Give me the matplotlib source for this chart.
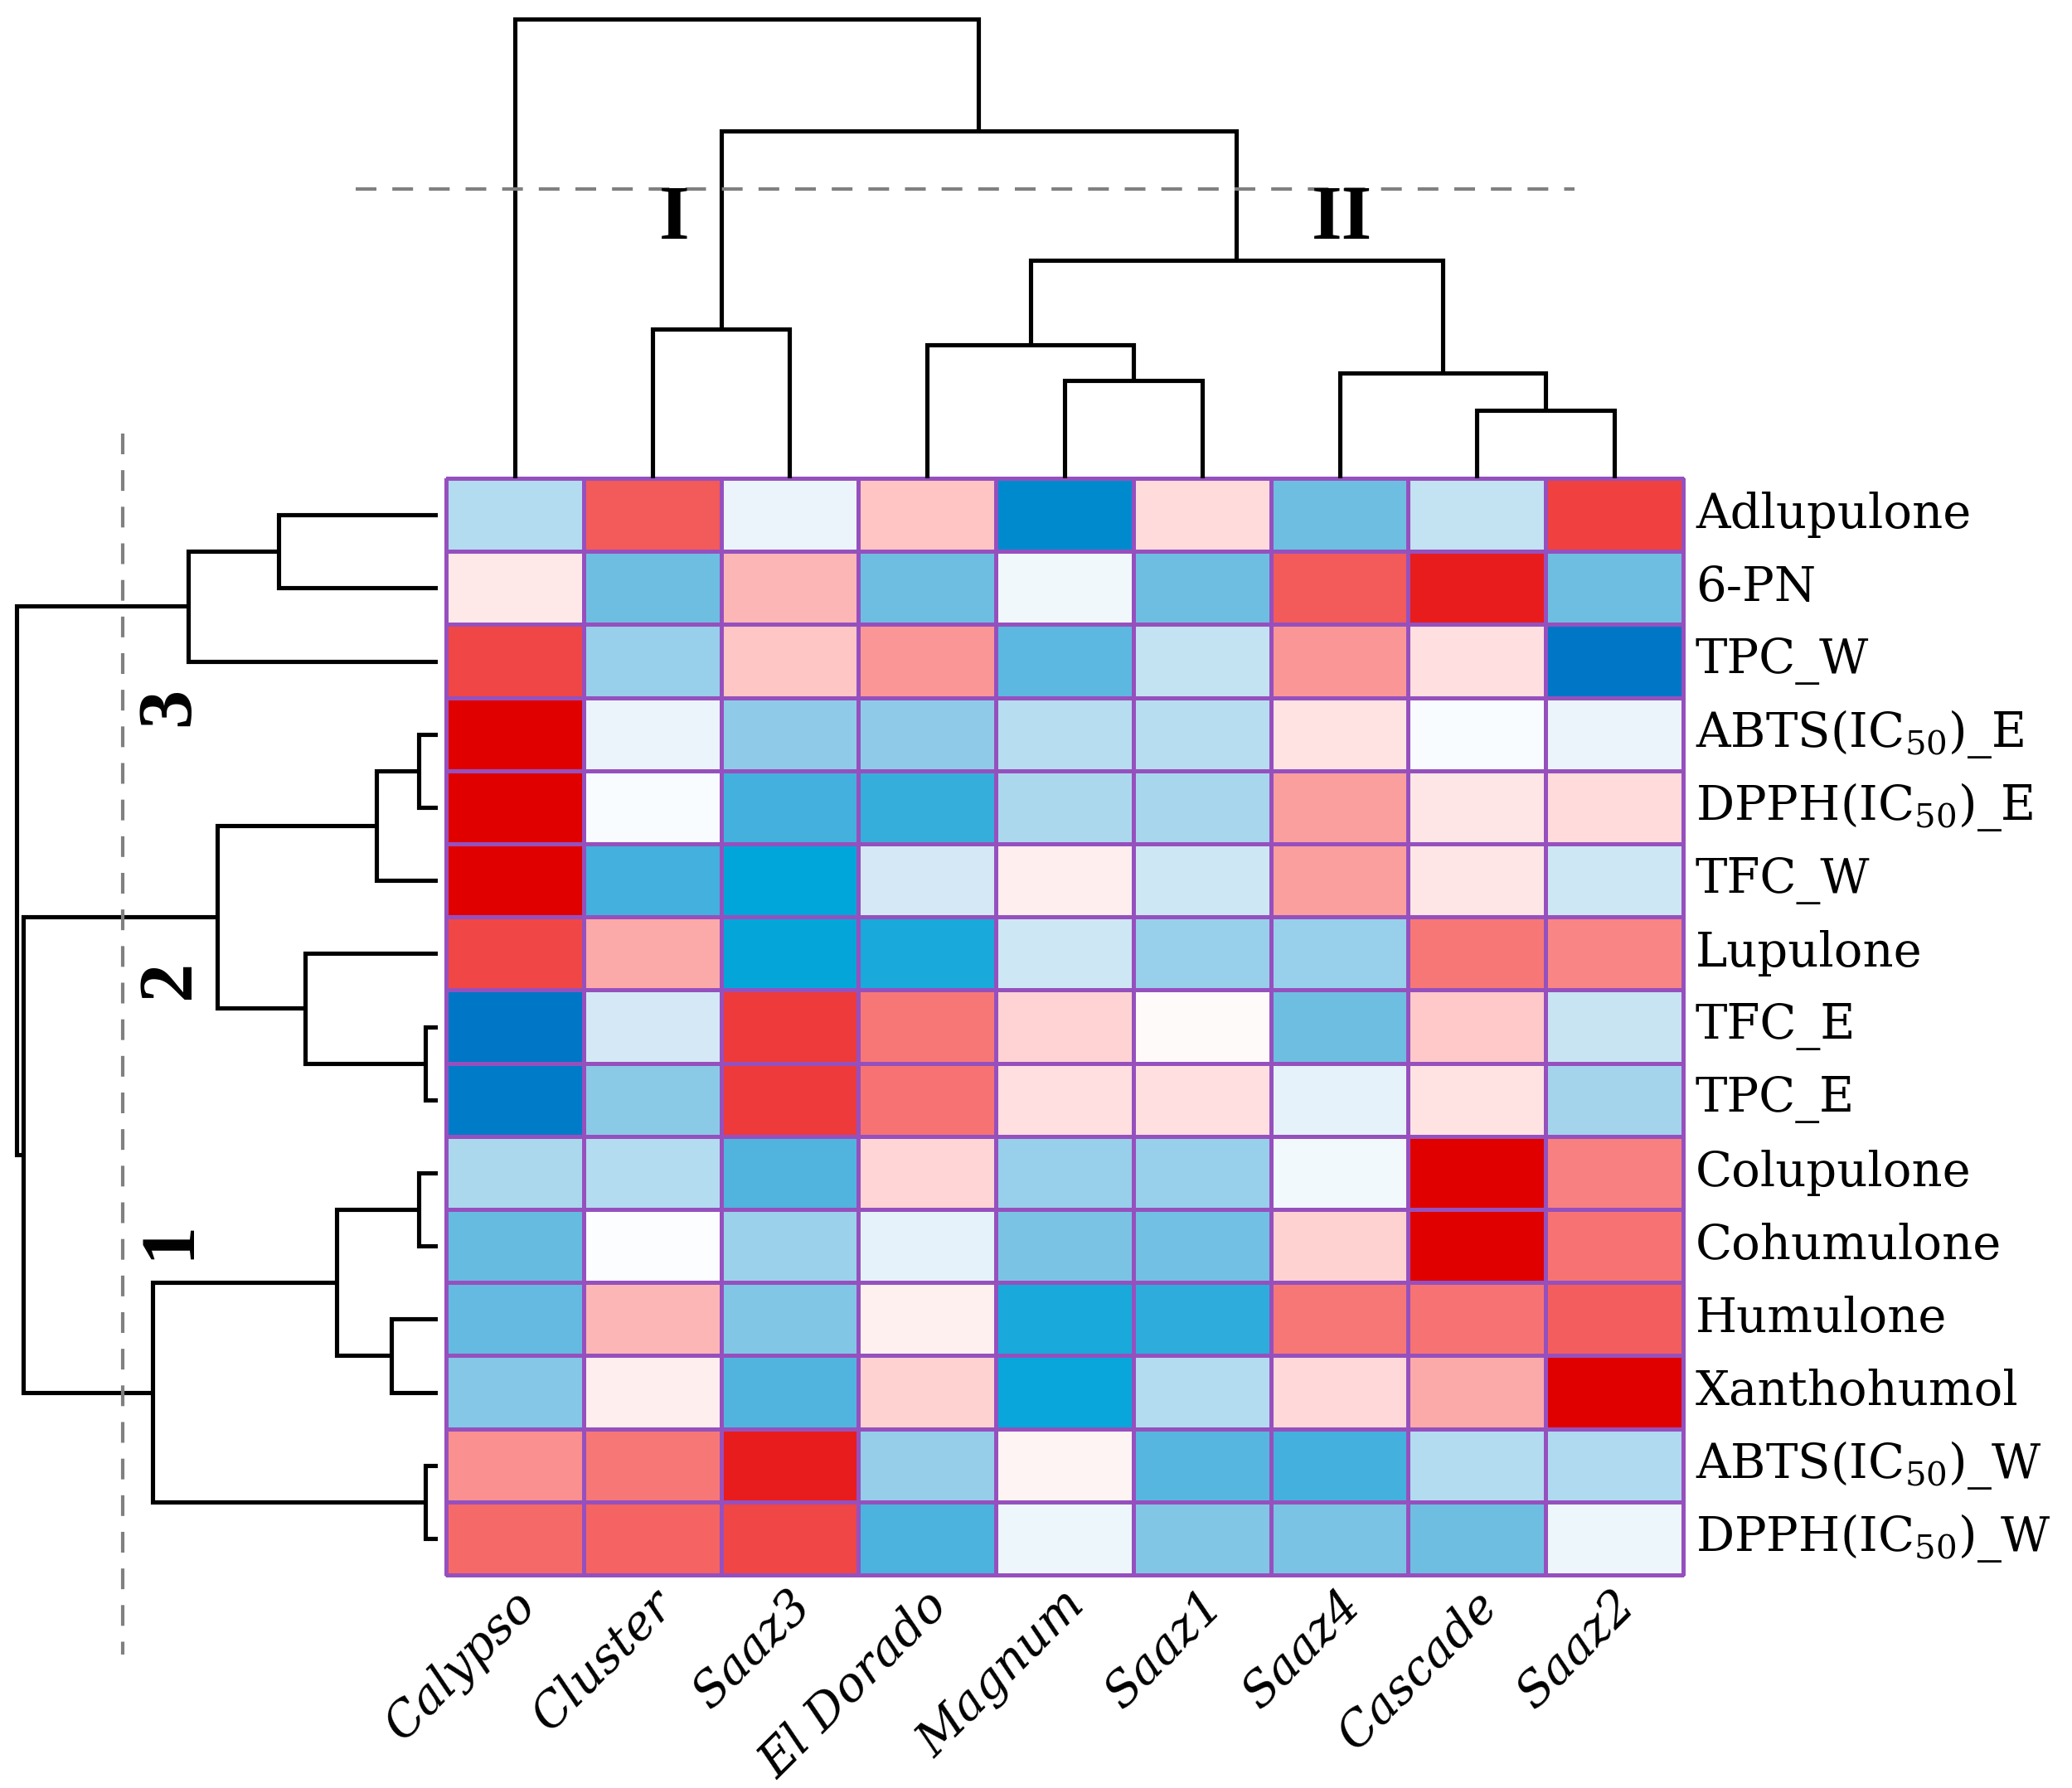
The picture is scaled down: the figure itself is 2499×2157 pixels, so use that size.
import numpy as np
import matplotlib
matplotlib.use("Agg")
import matplotlib.pyplot as plt
from matplotlib.colors import LinearSegmentedColormap

plt.rcParams["mathtext.fontset"] = "dejavuserif"

# ---------------- data ----------------
columns = ["Calypso", "Cluster", "Saaz3", "El Dorado", "Magnum",
           "Saaz1", "Saaz4", "Cascade", "Saaz2"]

rows = ["Adlupulone", "6-PN", "TPC_W", "ABTS(IC$_{50}$)_E", "DPPH(IC$_{50}$)_E",
        "TFC_W", "Lupulone", "TFC_E", "TPC_E", "Colupulone", "Cohumulone",
        "Humulone", "Xanthohumol", "ABTS(IC$_{50}$)_W", "DPPH(IC$_{50}$)_W"]

adlupulone  = [-0.33,  0.70, -0.10,  0.28, -0.93,  0.16, -0.60, -0.27,  0.80]
pn6         = [ 0.09, -0.60,  0.33, -0.60, -0.07, -0.60,  0.70,  0.90, -0.60]
tpc_w       = [ 0.78, -0.45,  0.27,  0.45, -0.65, -0.27,  0.45,  0.14, -1.00]
abts_e      = [ 1.00, -0.10, -0.48, -0.48, -0.32, -0.32,  0.11, -0.03, -0.10]
dpph_e      = [ 1.00, -0.03, -0.72, -0.75, -0.36, -0.38,  0.42,  0.10,  0.16]
tfc_w       = [ 1.00, -0.72, -0.85, -0.20,  0.07, -0.22,  0.42,  0.10, -0.22]
lupulone    = [ 0.78,  0.38, -0.84, -0.80, -0.22, -0.45, -0.45,  0.58,  0.52]
tfc_e       = [-1.00, -0.20,  0.82,  0.58,  0.20,  0.02, -0.60,  0.25, -0.25]
tpc_e       = [-0.98, -0.50,  0.82,  0.60,  0.14,  0.14, -0.12,  0.11, -0.40]
colupulone  = [-0.36, -0.33, -0.68,  0.19, -0.45, -0.45, -0.06,  1.00,  0.54]
cohumulone  = [-0.62, -0.02, -0.43, -0.12, -0.55, -0.58,  0.21,  1.00,  0.60]
humulone    = [-0.63,  0.33, -0.53,  0.06, -0.80, -0.76,  0.58,  0.60,  0.68]
xanthohumol = [-0.52,  0.07, -0.68,  0.21, -0.83, -0.33,  0.17,  0.38,  1.00]
abts_w      = [ 0.47,  0.58,  0.90, -0.46,  0.04, -0.67, -0.72, -0.33, -0.35]
dpph_w      = [ 0.64,  0.66,  0.78, -0.70, -0.08, -0.53, -0.55, -0.60, -0.08]

# linkage (child_a, child_b, height); leaves indexed in display order
col_merges = [(4, 5, 118), (3, 9, 161), (7, 8, 82), (6, 11, 127),
              (10, 12, 263), (1, 2, 180), (14, 13, 419), (0, 15, 554)]
row_merges = [(0, 1, 192), (15, 2, 301), (3, 4, 23), (17, 5, 74), (7, 8, 15),
              (6, 19, 160), (18, 20, 266), (9, 10, 23), (11, 12, 56),
              (22, 23, 122), (13, 14, 15), (24, 25, 344), (21, 26, 500),
              (16, 27, 508)]
col_cut = 349
row_cut = 380
col_groups = ["I", "II"]
row_groups = ["3", "2", "1"]

# ---------------- style ----------------
cmap_nodes = [(-1.00, (0, 118, 198)), (-0.85, (0, 165, 218)), (-0.72, (70, 176, 221)),
              (-0.60, (110, 190, 226)), (-0.45, (152, 207, 234)), (-0.33, (180, 220, 240)),
              (-0.20, (212, 233, 245)), (0.00, (255, 255, 255)), (0.10, (255, 230, 230)),
              (0.28, (255, 196, 196)), (0.45, (250, 150, 150)), (0.60, (247, 115, 115)),
              (0.80, (240, 65, 65)), (0.90, (232, 30, 30)), (1.00, (224, 0, 0))]
cmap = LinearSegmentedColormap.from_list(
    "hop", [((v + 1) / 2, tuple(c / 255 for c in rgb)) for v, rgb in cmap_nodes])

grid_color = "#9650be"
label_font = "DejaVu Serif"
group_font = "Liberation Serif"
fs = 41.5

data = np.array([adlupulone, pn6, tpc_w, abts_e, dpph_e, tfc_w, lupulone, tfc_e,
                 tpc_e, colupulone, cohumulone, humulone, xanthohumol, abts_w, dpph_w])
nr, nc = data.shape

W, H = 2499, 2157
fig = plt.figure(figsize=(W / 100, H / 100), dpi=100)

hm_l, hm_r, hm_t, hm_b = 538, 2030, 577, 1900
ax = fig.add_axes([hm_l / W, 1 - hm_b / H, (hm_r - hm_l) / W, (hm_b - hm_t) / H])
mesh = ax.pcolormesh(np.arange(nc + 1), np.arange(nr + 1), data, cmap=cmap,
                     vmin=-1, vmax=1, edgecolors=grid_color, linewidth=2.3)
mesh.set_clip_on(False)
ax.set_xlim(0, nc)
ax.set_ylim(nr, 0)
ax.axis("off")

for i, r in enumerate(rows):
    ax.text(nc + 0.09, i + 0.5, r, ha="left", va="center", fontsize=fs,
            family=label_font, clip_on=False)
for j, c in enumerate(columns):
    ax.text(j + 0.6, nr + 0.32, c, ha="right", va="center", rotation=45,
            rotation_mode="anchor", fontsize=fs, family=label_font,
            style="italic", clip_on=False)


def dendro_segments(n, merges):
    pos = {i: i + 0.5 for i in range(n)}
    hgt = {i: 0.0 for i in range(n)}
    segs = []
    for k, (a, b, h) in enumerate(merges):
        node = n + k
        segs.append(([pos[a], pos[a], pos[b], pos[b]], [hgt[a], h, h, hgt[b]]))
        pos[node] = (pos[a] + pos[b]) / 2
        hgt[node] = h
    return segs


lw = 3.7
# top dendrogram
axt = fig.add_axes([hm_l / W, 1 - hm_t / H, (hm_r - hm_l) / W, hm_t / H])
for xs, ys in dendro_segments(nc, col_merges):
    axt.plot(xs, ys, color="black", lw=lw, solid_capstyle="butt",
             solid_joinstyle="miter")
axt.set_xlim(0, nc)
axt.set_ylim(0, hm_t)
axt.axis("off")
axt.plot([-0.66, 8.21], [col_cut, col_cut], color="#808080", lw=3.0,
         dashes=(6.0, 4.6), clip_on=False)
for xg, g in zip([1.66, 6.52], col_groups):
    axt.text(xg, 311, g, ha="center", va="center", fontsize=68,
             family=group_font, weight="bold")

# left dendrogram
dl_r = 528
axl = fig.add_axes([0, 1 - hm_b / H, dl_r / W, (hm_b - hm_t) / H])
for xs, ys in dendro_segments(nr, row_merges):
    axl.plot(ys, xs, color="black", lw=lw, solid_capstyle="butt",
             solid_joinstyle="miter")
axl.set_xlim(dl_r, 0)
axl.set_ylim(nr, 0)
axl.axis("off")
axl.plot([row_cut, row_cut], [-0.61, 16.09], color="#808080", lw=3.0,
         dashes=(6.0, 4.6), clip_on=False)
for yg, g in zip([3.12, 6.85, 10.41], row_groups):
    axl.text(323, yg, g, ha="center", va="center", fontsize=68, rotation=90,
             family=group_font, weight="bold")

fig.savefig("out.png", dpi=100)
